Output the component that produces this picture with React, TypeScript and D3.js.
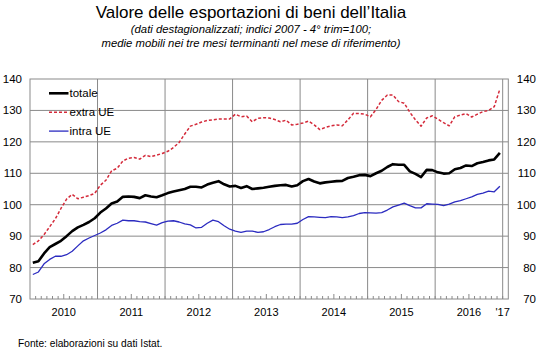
import React from 'react'
import * as d3 from 'd3'

// monthly values, Jan 2010 - Dec 2016
const totale = [
  81.5, 82.0, 84.5, 86.5, 87.5, 88.5, 90.0, 91.6, 92.8, 93.6,
  94.5, 95.7, 97.5, 98.8, 100.4, 101.0, 102.5, 102.6, 102.5, 102.1,
  103.0, 102.6, 102.4, 103.0, 103.7, 104.2, 104.6, 105.0, 105.7, 105.7,
  105.5, 106.4, 107.0, 107.5, 106.5, 105.8, 106.0, 105.3, 105.9, 105.0,
  105.2, 105.4, 105.7, 106.0, 106.2, 106.3, 105.8, 106.2, 107.5, 108.2,
  107.4, 106.8, 107.1, 107.3, 107.5, 107.6, 108.5, 108.9, 109.4, 109.5,
  109.1, 110.0, 110.8, 112.0, 112.9, 112.7, 112.7, 110.6, 109.8, 108.8,
  111.1, 111.0, 110.3, 109.9, 110.0, 111.3, 111.7, 112.5, 112.3, 113.2,
  113.6, 114.1, 114.4, 116.5,
]

const extraUE = [
  87.3, 88.5, 90.5, 93.0, 95.5, 98.8, 101.8, 103.3, 101.9, 102.4,
  102.9, 103.6, 106.2, 107.8, 110.8, 111.6, 113.9, 114.8, 115.0, 114.5,
  115.7, 115.3, 115.8, 116.3, 117.0, 118.2, 119.8, 122.5, 125.0, 125.6,
  126.3, 126.8, 127.0, 127.3, 127.3, 127.3, 128.8, 128.0, 128.2, 126.4,
  127.5, 127.7, 127.6, 127.1, 126.4, 126.9, 125.4, 125.6, 126.0, 126.6,
  125.4, 123.9, 124.6, 125.1, 125.4, 125.1, 127.0, 129.1, 129.0, 128.8,
  128.0, 130.3, 133.2, 134.9, 134.9, 132.8, 132.3, 129.4, 127.0, 125.0,
  127.6, 128.3, 127.2, 126.1, 125.1, 128.0, 128.5, 129.0, 127.9, 128.8,
  129.6, 130.0, 131.2, 136.8,
]

const intraUE = [
  77.8, 78.6, 81.2, 82.6, 83.6, 83.6, 84.1, 85.2, 86.9, 88.5,
  89.4, 90.2, 91.0, 92.0, 93.4, 94.1, 95.1, 94.9, 94.9, 94.6,
  94.5, 94.0, 93.5, 94.3, 94.8, 94.9, 94.5, 93.9, 93.6, 92.6,
  92.8, 94.1, 95.1, 94.6, 93.3, 92.2, 91.6, 91.2, 91.6, 91.6,
  91.2, 91.4, 92.1, 93.0, 93.7, 93.8, 93.8, 94.1, 95.3, 96.2,
  96.1, 96.0, 95.9, 96.2, 96.1, 95.9, 96.1, 96.5, 97.2, 97.5,
  97.4, 97.3, 97.5, 98.3, 99.3, 99.9, 100.5, 99.7, 99.0, 99.0,
  100.3, 100.2, 100.1, 99.7, 100.2, 100.9, 101.3, 101.9, 102.5, 103.3,
  103.7, 104.3, 104.1, 105.9,
]

const years = ['2010', '2011', '2012', '2013', '2014', '2015', '2016']
const lastYearLabel = "'17"
const yTicks = [70, 80, 90, 100, 110, 120, 130, 140]

const series = [
  {name: 'totale', values: totale, color: '#000000', width: 2.6, dash: null},
  {name: 'extra UE', values: extraUE, color: '#d42a3a', width: 1.5, dash: '3,2'},
  {name: 'intra UE', values: intraUE, color: '#2b2bc0', width: 1.3, dash: null},
]

const W = 540
const H = 353
const font = '"Liberation Sans", Arial, sans-serif'
const gridColor = '#8a8a8a'

export default function App() {
  const left = 30
  const right = 508.3
  const top = 79
  const bottom = 299
  const nMonths = years.length * 12 + 1 // axis runs to the end of Jan 2017

  const x = d3.scaleLinear().domain([0, nMonths]).range([left, right])
  const y = d3.scaleLinear().domain([70, 140]).range([bottom, top])

  const line = d3.line<number>()
    .x((d, i) => x(i + 0.5))
    .y(d => y(d))

  const monthTicks = d3.range(1, nMonths)
  const yearBounds = d3.range(1, years.length + 1).map(k => k * 12)

  return (
    <svg width={W} height={H} style={{position: 'absolute', left: 0, top: 0}} fontFamily={font}>
      <rect width={W} height={H} fill="#fff" />

      <text x={251} y={18} textAnchor="middle" fontSize={17}>
        Valore delle esportazioni di beni dell’Italia
      </text>
      <text x={251} y={33} textAnchor="middle" fontSize={11.3} fontStyle="italic">
        (dati destagionalizzati; indici 2007 - 4° trim=100;
      </text>
      <text x={251} y={47} textAnchor="middle" fontSize={11.3} fontStyle="italic">
        medie mobili nei tre mesi terminanti nel mese di riferimento)
      </text>

      {/* horizontal grid */}
      {yTicks.slice(1, -1).map(t => (
        <line key={'h' + t} x1={left} x2={right} y1={y(t)} y2={y(t)} stroke={gridColor} strokeWidth={1} />
      ))}
      {/* year gridlines */}
      {yearBounds.map(m => (
        <line key={'v' + m} x1={x(m)} x2={x(m)} y1={top} y2={bottom} stroke={gridColor} strokeWidth={1} />
      ))}
      {/* month ticks */}
      {monthTicks.map(m => (
        <line key={'t' + m} x1={x(m)} x2={x(m)} y1={bottom} y2={bottom - (m % 12 === 6 ? 5 : 3)}
          stroke={gridColor} strokeWidth={1} />
      ))}
      <rect x={left} y={top} width={right - left} height={bottom - top} fill="none" stroke={gridColor} strokeWidth={1} />

      {/* y labels */}
      {yTicks.map(t => (
        <g key={'yl' + t}>
          <text x={22} y={y(t)} dy="0.35em" textAnchor="end" fontSize={11.5}>{t}</text>
          <text x={536} y={y(t)} dy="0.35em" textAnchor="end" fontSize={11.5}>{t}</text>
        </g>
      ))}

      {/* x labels */}
      {years.map((yr, k) => (
        <text key={yr} x={x(k * 12 + 6)} y={316} textAnchor="middle" fontSize={11}>{yr}</text>
      ))}
      <text x={x(84)} y={316} textAnchor="middle" fontSize={11}>{lastYearLabel}</text>

      {/* series */}
      {series.map(s => (
        <path key={s.name} d={line(s.values) || ''} fill="none" stroke={s.color} strokeWidth={s.width}
          strokeDasharray={s.dash || undefined} strokeLinejoin="round" />
      ))}

      {/* legend */}
      {series.map((s, i) => {
        const ly = 93.3 + i * 18.9
        return (
          <g key={'lg' + s.name}>
            <line x1={49} x2={68.5} y1={ly} y2={ly} stroke={s.color} strokeWidth={s.width}
              strokeDasharray={s.dash || undefined} />
            <text x={69.5} y={ly} dy="0.35em" fontSize={11.5}>{s.name}</text>
          </g>
        )
      })}

      <text x={18} y={347} fontSize={10.2}>Fonte: elaborazioni su dati Istat.</text>
    </svg>
  )
}
